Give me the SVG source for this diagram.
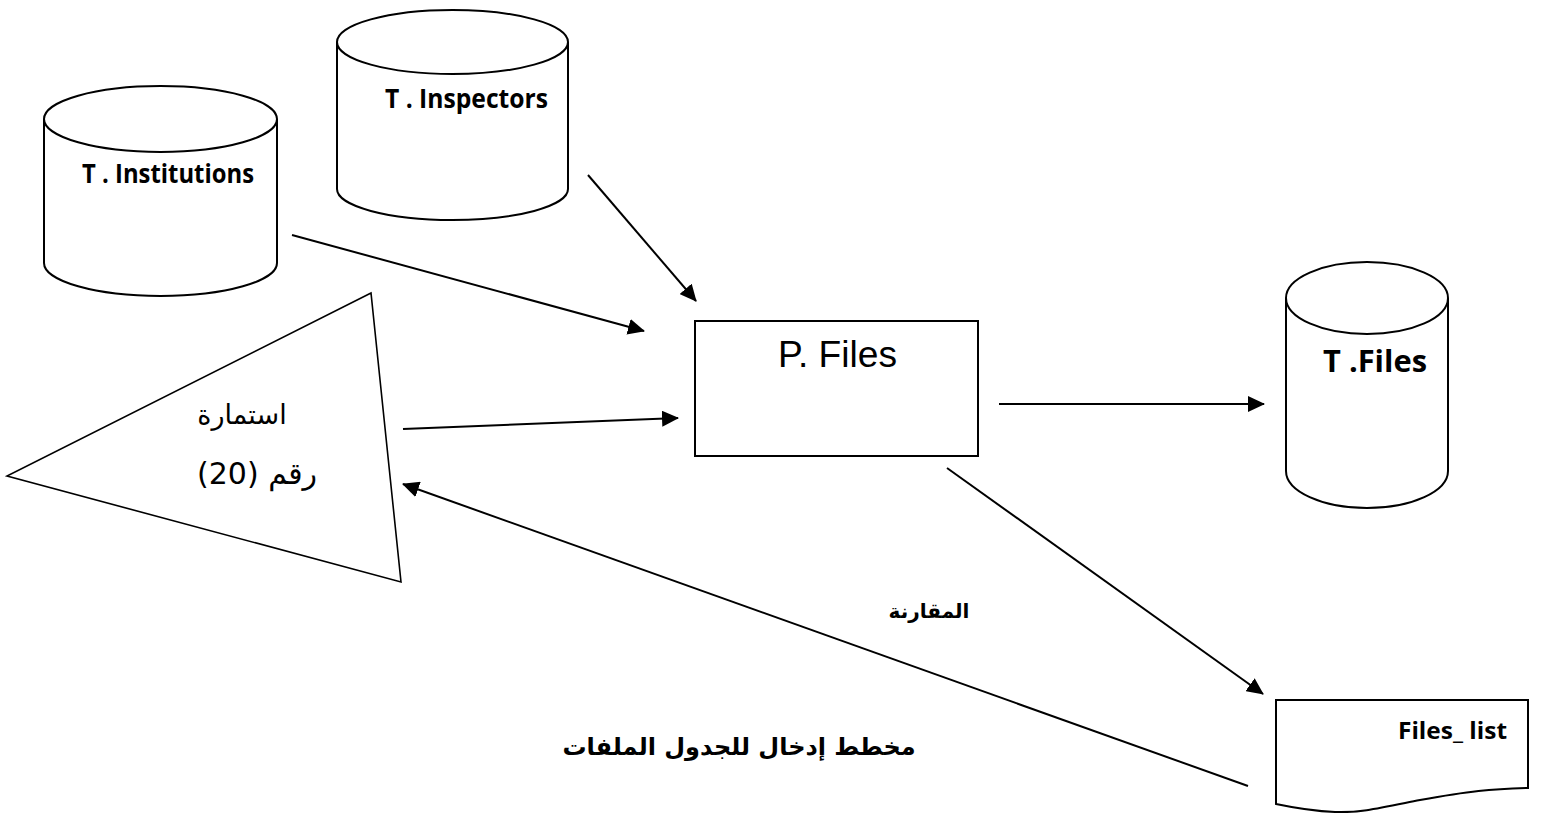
<svg xmlns="http://www.w3.org/2000/svg" width="1541" height="813" viewBox="0 0 1541 813">
<style>
.shape{fill:#fff;stroke:#000;stroke-width:2}
.thin{fill:#fff;stroke:#000;stroke-width:1.6}
.lbl{font-family:"Open Sans","Noto Sans","Liberation Sans",sans-serif;font-weight:700;fill:#000}
.plain{font-family:"Liberation Sans","Arial",sans-serif;fill:#000}
.ar{font-family:"DejaVu Sans","Noto Sans",sans-serif;fill:#000}
.conn{stroke:#000;stroke-width:2;fill:none;marker-end:url(#ah)}
</style>
<defs>
<marker id="ah" markerUnits="userSpaceOnUse" markerWidth="17" markerHeight="16" refX="16" refY="8" orient="auto" viewBox="0 0 17 16">
<path d="M0,0 L17,8 L0,16 z" fill="#000"/>
</marker>
</defs>
<rect width="1541" height="813" fill="#fff"/>
<g id="t-institutions">
<path class="shape" d="M44,119 L44,263 A116.5,33 0 0 0 277,263 L277,119"/>
<ellipse class="shape" cx="160.5" cy="119" rx="116.5" ry="33"/>
<text class="lbl" x="82" y="183" font-size="27" textLength="172" lengthAdjust="spacingAndGlyphs">T . Institutions</text>
</g>
<g id="t-inspectors">
<path class="shape" d="M337,42 L337,189 A115.5,31 0 0 0 568,189 L568,42"/>
<ellipse class="shape" cx="452.5" cy="42" rx="115.5" ry="32"/>
<text class="lbl" x="385" y="108" font-size="27" textLength="163" lengthAdjust="spacingAndGlyphs">T . Inspectors</text>
</g>
<g id="t-files">
<path class="shape" d="M1286,298 L1286,471 A81,37 0 0 0 1448,471 L1448,298"/>
<ellipse class="shape" cx="1367" cy="298" rx="81" ry="36"/>
<text class="lbl" x="1323" y="372" font-size="31" textLength="104" lengthAdjust="spacingAndGlyphs">T .Files</text>
</g>
<g id="p-files">
<rect class="shape" x="695" y="321" width="283" height="135"/>
<text class="plain" x="778" y="367" font-size="36" textLength="119" lengthAdjust="spacingAndGlyphs">P. Files</text>
</g>
<g id="form-20">
<polygon class="thin" points="371,293 7,476 401,582"/>
<text class="ar" x="242" y="424" font-size="27" text-anchor="middle" direction="rtl">استمارة</text>
<text class="ar" x="257" y="484" font-size="30" text-anchor="middle" direction="rtl">رقم (20)</text>
</g>
<g id="files-list">
<path class="shape" d="M1276,700 L1528,700 L1528,788 C1490,789 1470,791 1420,800 C1380,808 1360,813 1335,812 C1310,811 1295,808 1276,804 Z"/>
<text class="lbl" x="1398" y="739" font-size="23" textLength="109" lengthAdjust="spacingAndGlyphs">Files_ list</text>
</g>
<g id="connectors">
<line class="conn" x1="292" y1="235" x2="644" y2="331"/>
<line class="conn" x1="588" y1="175" x2="696" y2="301"/>
<line class="conn" x1="403" y1="429" x2="678" y2="418"/>
<line class="conn" x1="999" y1="404" x2="1264" y2="404"/>
<line class="conn" x1="947" y1="468" x2="1263" y2="694"/>
<line class="conn" x1="1248" y1="786" x2="403" y2="484"/>
</g>
<g id="labels">
<text class="ar" x="929" y="618" font-size="20" font-weight="700" text-anchor="middle" direction="rtl">المقارنة</text>
<text class="ar" x="739" y="755" font-size="24" font-weight="700" text-anchor="middle" direction="rtl">مخطط إدخال للجدول الملفات</text>
</g>
</svg>
